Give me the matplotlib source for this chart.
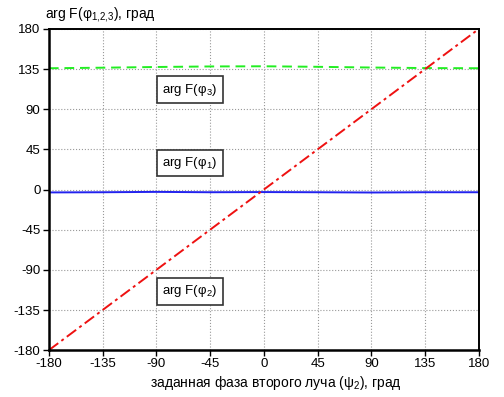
import numpy as np
import matplotlib.pyplot as plt

psi2 = [-180, -135, -90, -45, 0, 45, 90, 135, 180]
phi1 = [-3.2, -3.0, -2.6, -3.0, -2.8, -3.0, -3.3, -3.0, -3.0]
phi2 = [-180, -135, -90, -45, 0, 45, 90, 135, 180]
phi3 = [136.0, 136.6, 137.4, 138.0, 138.2, 137.6, 136.8, 136.2, 136.0]
ticks = [-180, -135, -90, -45, 0, 45, 90, 135, 180]

plt.rcParams['font.family'] = ['Liberation Sans', 'DejaVu Sans']
plt.rcParams['font.size'] = 9.5
plt.rcParams['axes.unicode_minus'] = False

fig = plt.figure(figsize=(5.04, 3.97), dpi=100)
ax = fig.add_axes([0.097, 0.118, 0.853, 0.809])

ax.plot(psi2, phi3, color='#22ee22', lw=1.4, ls=(0, (5, 3)))
ax.plot(psi2, phi1, color='#2222ee', lw=1.4)
ax.plot(psi2, phi2, color='#ee1111', lw=1.4, ls=(0, (6, 2, 1.5, 2)))

ax.set_xlim(-180, 180)
ax.set_ylim(-180, 180)
ax.set_xticks(ticks)
ax.set_yticks(ticks)
ax.grid(True, color='#999999', ls=':', lw=0.8)
ax.tick_params(direction='out', length=4, width=1, pad=2)
for s in ['left', 'bottom']:
    ax.spines[s].set_linewidth(1.8)
for s in ['top', 'right']:
    ax.spines[s].set_linewidth(1.4)

box = dict(boxstyle='square,pad=0.4', fc='white', ec='#333333', lw=1.2)
ax.text(-62, 112, r'arg F($\mathregular{\varphi_3}$)', ha='center', va='center', bbox=box)
ax.text(-62, 30, r'arg F($\mathregular{\varphi_1}$)', ha='center', va='center', bbox=box)
ax.text(-62, -114, r'arg F($\mathregular{\varphi_2}$)', ha='center', va='center', bbox=box)

ax.set_xlabel(r'заданная фаза второго луча ($\mathregular{\psi_2}$), град', fontsize=10)
ax.xaxis.set_label_coords(0.527, -0.075)
fig.text(0.089, 0.963, r'arg F($\mathregular{\varphi_{1{,}2{,}3}}$), град', ha='left',
         va='center', fontsize=10)

fig.savefig('out.png', dpi=100)
